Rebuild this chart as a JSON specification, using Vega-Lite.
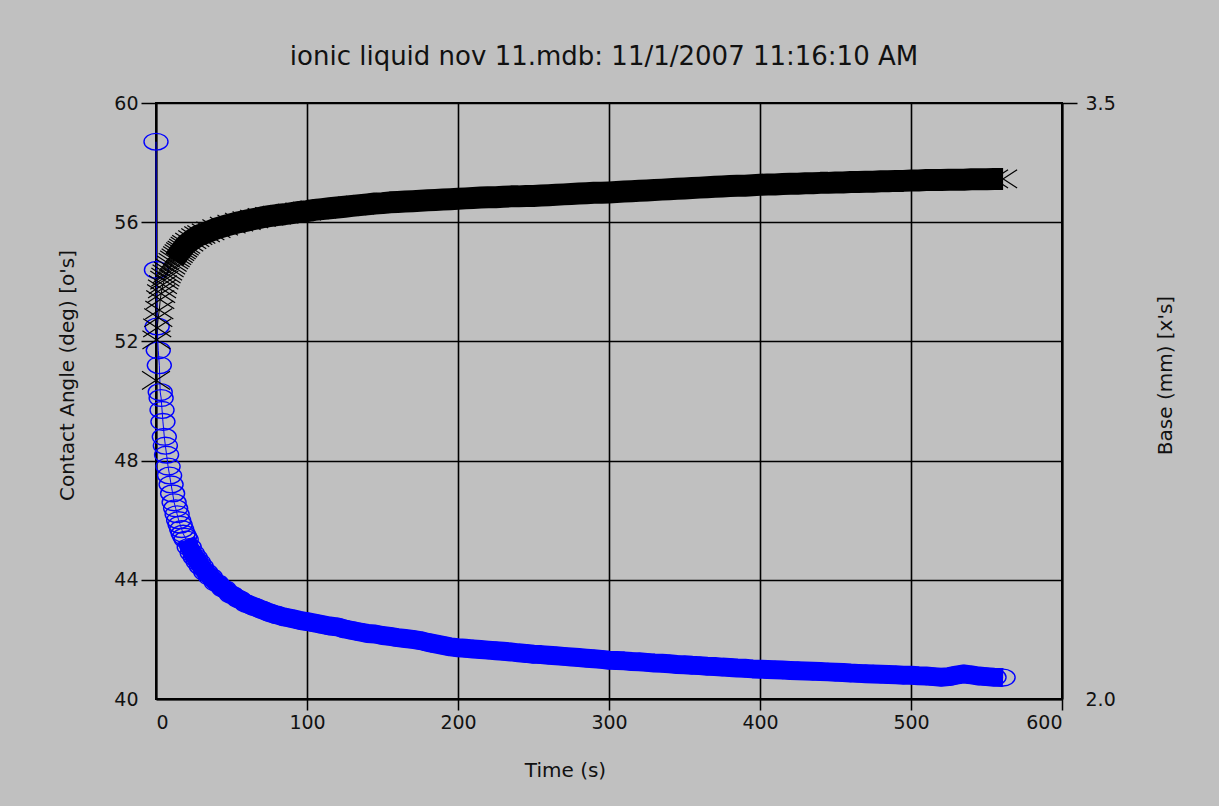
{
"$schema":"https://vega.github.io/schema/vega-lite/v6.json",
"width":906,"height":596,
"autosize":{"type":"none"},
"padding":{"left":156,"top":103,"right":157,"bottom":107},
"background":"#c0c0c0",
"config":{"view":{"stroke":"#000000","strokeWidth":2,"fill":"#c0c0c0"},
"axis":{"labelFont":"DejaVu Sans","titleFont":"DejaVu Sans","labelColor":"#111","titleColor":"#111","titleFontWeight":"normal","labelFontSize":19,"titleFontSize":20,"domain":true,"domainColor":"#000","domainWidth":2,"tickColor":"#000","tickWidth":1.5,"gridColor":"#000","gridWidth":1.6,"gridOpacity":1,"zindex":1}},
"title":{"text":"ionic liquid nov 11.mdb: 11/1/2007 11:16:10 AM","font":"DejaVu Sans","fontSize":26,"fontWeight":"normal","color":"#111","anchor":"middle","frame":"group","dx":-5,"offset":24},
"data":{"values":[
{"t":0,"a":58.7,"b":2.802},{"t":0.3,"a":54.4,"b":2.904},{"t":0.8,"a":52.5,"b":2.934},{"t":1.5,"a":51.7,"b":2.96},{"t":2.2,"a":51.2,"b":2.979},{"t":2.8,"a":50.3,"b":3.005},{"t":3.4,"a":50.1,"b":3.02},{"t":4,"a":49.7,"b":3.032},{"t":4.6,"a":49.3,"b":3.043},{"t":5.5,"a":48.8,"b":3.054},{"t":6.2,"a":48.5,"b":3.062},{"t":7,"a":48.2,"b":3.07},{"t":8,"a":47.8,"b":3.077},{"t":9,"a":47.5,"b":3.085},{"t":10,"a":47.2,"b":3.092},{"t":11,"a":46.9,"b":3.099},{"t":12,"a":46.6,"b":3.105},{"t":13,"a":46.4,"b":3.11},{"t":14,"a":46.2,"b":3.116},{"t":15,"a":46.0,"b":3.121},{"t":16,"a":45.85,"b":3.126},{"t":17,"a":45.7,"b":3.13},{"t":18,"a":45.55,"b":3.135},{"t":19,"a":45.45,"b":3.14},{"t":20,"a":45.35,"b":3.144},{"t":22,"a":45.1,"b":3.15},{"t":24,"a":44.9,"b":3.156},{"t":26,"a":44.75,"b":3.161},{"t":28,"a":44.6,"b":3.166},{"t":30,"a":44.45,"b":3.169},{"t":33,"a":44.25,"b":3.173},{"t":36,"a":44.1,"b":3.178},{"t":40,"a":43.9,"b":3.184},{"t":45,"a":43.7,"b":3.19},{"t":50,"a":43.5,"b":3.195},{"t":55,"a":43.35,"b":3.2},{"t":60,"a":43.2,"b":3.204},{"t":65,"a":43.1,"b":3.208},{"t":70,"a":43.0,"b":3.212},{"t":75,"a":42.9,"b":3.215},{"t":80,"a":42.82,"b":3.218},{"t":85,"a":42.75,"b":3.22},{"t":90,"a":42.7,"b":3.223},{"t":95,"a":42.64,"b":3.226},{"t":100,"a":42.6,"b":3.228},{"t":105,"a":42.55,"b":3.231},{"t":110,"a":42.5,"b":3.233},{"t":115,"a":42.45,"b":3.235},{"t":120,"a":42.42,"b":3.237},{"t":125,"a":42.35,"b":3.239},{"t":130,"a":42.3,"b":3.241},{"t":135,"a":42.25,"b":3.243},{"t":140,"a":42.2,"b":3.245},{"t":145,"a":42.18,"b":3.247},{"t":150,"a":42.13,"b":3.248},{"t":155,"a":42.1,"b":3.25},{"t":160,"a":42.06,"b":3.251},{"t":165,"a":42.03,"b":3.252},{"t":170,"a":42.0,"b":3.253},{"t":175,"a":41.96,"b":3.254},{"t":180,"a":41.9,"b":3.255},{"t":185,"a":41.85,"b":3.256},{"t":190,"a":41.8,"b":3.257},{"t":195,"a":41.75,"b":3.258},{"t":200,"a":41.72,"b":3.259},{"t":205,"a":41.7,"b":3.26},{"t":210,"a":41.68,"b":3.261},{"t":215,"a":41.66,"b":3.262},{"t":220,"a":41.64,"b":3.263},{"t":225,"a":41.62,"b":3.263},{"t":230,"a":41.6,"b":3.264},{"t":235,"a":41.58,"b":3.265},{"t":240,"a":41.55,"b":3.265},{"t":245,"a":41.53,"b":3.266},{"t":250,"a":41.5,"b":3.266},{"t":255,"a":41.49,"b":3.267},{"t":260,"a":41.47,"b":3.268},{"t":265,"a":41.45,"b":3.269},{"t":270,"a":41.43,"b":3.27},{"t":275,"a":41.41,"b":3.271},{"t":280,"a":41.39,"b":3.272},{"t":285,"a":41.37,"b":3.273},{"t":290,"a":41.35,"b":3.274},{"t":295,"a":41.33,"b":3.274},{"t":300,"a":41.3,"b":3.275},{"t":305,"a":41.29,"b":3.276},{"t":310,"a":41.28,"b":3.277},{"t":315,"a":41.26,"b":3.278},{"t":320,"a":41.25,"b":3.279},{"t":325,"a":41.23,"b":3.28},{"t":330,"a":41.21,"b":3.281},{"t":335,"a":41.2,"b":3.282},{"t":340,"a":41.18,"b":3.283},{"t":345,"a":41.16,"b":3.284},{"t":350,"a":41.15,"b":3.285},{"t":355,"a":41.13,"b":3.286},{"t":360,"a":41.12,"b":3.287},{"t":365,"a":41.1,"b":3.288},{"t":370,"a":41.09,"b":3.289},{"t":375,"a":41.07,"b":3.29},{"t":380,"a":41.06,"b":3.291},{"t":385,"a":41.04,"b":3.292},{"t":390,"a":41.03,"b":3.292},{"t":395,"a":41.01,"b":3.293},{"t":400,"a":41.0,"b":3.294},{"t":405,"a":40.99,"b":3.295},{"t":410,"a":40.98,"b":3.295},{"t":415,"a":40.97,"b":3.296},{"t":420,"a":40.96,"b":3.297},{"t":425,"a":40.95,"b":3.297},{"t":430,"a":40.94,"b":3.298},{"t":435,"a":40.93,"b":3.298},{"t":440,"a":40.92,"b":3.299},{"t":445,"a":40.91,"b":3.299},{"t":450,"a":40.9,"b":3.3},{"t":455,"a":40.89,"b":3.3},{"t":460,"a":40.87,"b":3.301},{"t":465,"a":40.86,"b":3.301},{"t":470,"a":40.85,"b":3.302},{"t":475,"a":40.84,"b":3.302},{"t":480,"a":40.83,"b":3.303},{"t":485,"a":40.82,"b":3.303},{"t":490,"a":40.81,"b":3.304},{"t":495,"a":40.8,"b":3.304},{"t":500,"a":40.8,"b":3.305},{"t":505,"a":40.78,"b":3.305},{"t":510,"a":40.77,"b":3.306},{"t":515,"a":40.75,"b":3.306},{"t":520,"a":40.73,"b":3.306},{"t":525,"a":40.75,"b":3.307},{"t":530,"a":40.8,"b":3.307},{"t":535,"a":40.84,"b":3.307},{"t":540,"a":40.81,"b":3.308},{"t":545,"a":40.77,"b":3.308},{"t":550,"a":40.75,"b":3.308},{"t":555,"a":40.73,"b":3.309},{"t":561,"a":40.72,"b":3.309}
]},
"layer":[
{"encoding":{
  "x":{"field":"t","type":"quantitative","scale":{"domain":[0,600],"nice":false,"zero":false},
    "axis":{"values":[0,100,200,300,400,500,600],"grid":true,"tickSize":11,"labelPadding":3,"tickOpacity":{"condition":{"test":"datum.value === 0","value":0},"value":1},"title":"Time (s)","titleX":409,"titleY":71,"titleBaseline":"middle","titleAnchor":null}},
  "y":{"field":"a","type":"quantitative","scale":{"domain":[40,60],"nice":false,"zero":false},
    "axis":{"orient":"left","values":[40,44,48,52,56,60],"grid":true,"tickSize":15,"labelPadding":3,"tickOpacity":{"condition":{"test":"datum.value === 40","value":0},"value":1},"title":"Contact Angle (deg) [o's]","titleX":-89,"titleY":272,"titleAngle":270,"titleBaseline":"middle"}}},
 "layer":[
  {"transform":[{"filter":"datum.t >= 20"}],"mark":{"type":"line","color":"#0000ff","strokeWidth":19,"strokeCap":"butt","strokeJoin":"round"}},
  {"mark":{"type":"line","color":"#0000ff","strokeWidth":1}},
  {"mark":{"type":"point","shape":"M -1 0 A 1 0.7 0 1 0 1 0 A 1 0.7 0 1 0 -1 0 Z","size":576,"filled":false,"color":"#0000ff","strokeWidth":1.4,"opacity":1}}
 ]},
{"encoding":{
  "x":{"field":"t","type":"quantitative"},
  "y":{"field":"b","type":"quantitative","scale":{"domain":[2.0,3.5],"nice":false,"zero":false},
    "axis":{"orient":"right","values":[2.0,3.5],"format":".1f","grid":false,"tickSize":15,"labelPadding":8,"tickOpacity":{"condition":{"test":"datum.value === 2","value":0},"value":1},"title":"Base (mm) [x's]","titleX":103,"titleY":272,"titleAngle":270,"titleBaseline":"middle"}}},
 "layer":[
  {"transform":[{"filter":"datum.t >= 12"}],"mark":{"type":"line","color":"#000000","strokeWidth":22,"strokeCap":"butt","strokeJoin":"round"}},
  {"mark":{"type":"line","color":"#000000","strokeWidth":1}},
  {"mark":{"type":"point","shape":"M -1 -0.65 L 1 0.65 M -1 0.65 L 1 -0.65","size":784,"filled":false,"color":"#000000","strokeWidth":1.2,"opacity":1}}
 ]}
],
"resolve":{"scale":{"y":"independent"}}
}
